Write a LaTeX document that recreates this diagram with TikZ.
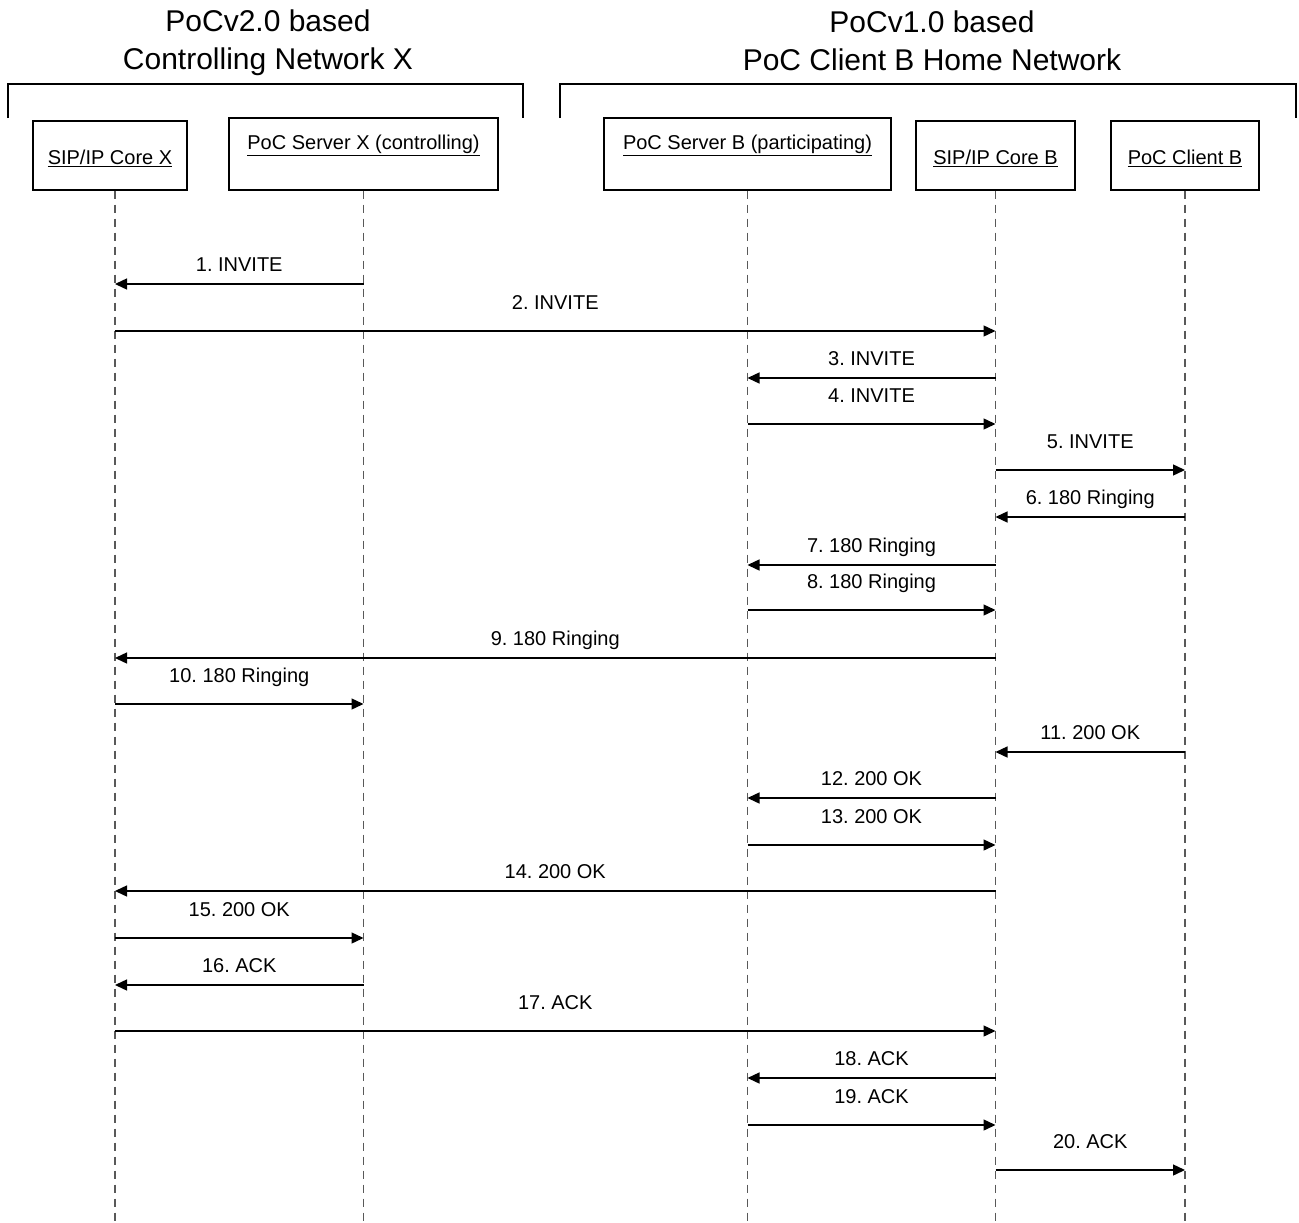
\documentclass[tikz,border=0pt]{standalone}
\usepackage{fontspec}
\setmainfont{Liberation Sans}
\usetikzlibrary{arrows.meta, positioning}
\frenchspacing

\begin{document}
\begin{tikzpicture}[
    x=1pt, y=-1pt,
    font=\fontsize{20}{24}\selectfont,
    >={Triangle[length=12pt, width=11pt]},
    entity/.style={draw=black, line width=1.1pt, inner sep=0pt,
        text height=18pt, text depth=0pt, minimum height=69pt},
    tallentity/.style={entity, text depth=27pt, minimum height=72pt},
    netlabel/.style={align=center, font=\fontsize{30}{38}\selectfont},
    bracket/.style={line width=2pt},
    lifeline/.style={dash pattern=on 8pt off 6pt, line width=1.3pt, draw=black!65},
    msg/.style={->, line width=1.4pt},
    lblleft/.style={above=7.5pt, inner sep=0pt, text height=15pt, text depth=4pt},
    lblright/.style={above=16.5pt, inner sep=0pt, text height=15pt, text depth=4pt}
  ]
    \useasboundingbox (0,0) rectangle (1299,1223);

    % network headers and their brackets
    \node[netlabel] (netx) at (268,43) {PoCv2.0 based\\Controlling Network X};
    \node[netlabel] (netb) at (932,41) {PoCv1.0 based\\PoC Client B Home Network};
    \draw[bracket] (8,118) |- (523,84) -- (523,118);
    \draw[bracket] (560,118) |- (1296,84) -- (1296,118);

    % entities
    \node[entity, minimum width=154pt] (corex) at (110,155.5) {\underline{SIP/IP Core X}};
    \node[tallentity, minimum width=269pt] (serverx) at (363.5,154) {\underline{PoC Server X (controlling)}};
    \node[tallentity, minimum width=287pt] (serverb) at (747.5,154) {\underline{PoC Server B (participating)}};
    \node[entity, minimum width=159pt] (coreb) at (995.5,155.5) {\underline{SIP/IP Core B}};
    \node[entity, minimum width=148pt] (clientb) at (1185,155.5) {\underline{PoC Client B}};

    % lifelines
    \coordinate (lcorex) at ([xshift=5pt]corex.south);
    \coordinate (lserverx) at (serverx.south);
    \coordinate (lserverb) at (serverb.south);
    \coordinate (lcoreb) at (coreb.south);
    \coordinate (lclientb) at (clientb.south);
    \draw[lifeline] (lcorex) -- (lcorex |- 0,1223);
    \draw[lifeline] (lserverx) -- (lserverx |- 0,1223);
    \draw[lifeline] (lserverb) -- (lserverb |- 0,1223);
    \draw[lifeline] (lcoreb) -- (lcoreb |- 0,1223);
    \draw[lifeline] (lclientb) -- (lclientb |- 0,1223);

    % INVITE
    \draw[msg] (lserverx |- 0,284) -- node[lblleft] {1. INVITE} (lcorex |- 0,284);
    \draw[msg] (lcorex |- 0,331) -- node[lblright] {2. INVITE} (lcoreb |- 0,331);
    \draw[msg] (lcoreb |- 0,378) -- node[lblleft] {3. INVITE} (lserverb |- 0,378);
    \draw[msg] (lserverb |- 0,424) -- node[lblright] {4. INVITE} (lcoreb |- 0,424);
    \draw[msg] (lcoreb |- 0,470) -- node[lblright] {5. INVITE} (lclientb |- 0,470);
    % 180 Ringing
    \draw[msg] (lclientb |- 0,517) -- node[lblleft] {6. 180 Ringing} (lcoreb |- 0,517);
    \draw[msg] (lcoreb |- 0,565) -- node[lblleft] {7. 180 Ringing} (lserverb |- 0,565);
    \draw[msg] (lserverb |- 0,610) -- node[lblright] {8. 180 Ringing} (lcoreb |- 0,610);
    \draw[msg] (lcoreb |- 0,658) -- node[lblleft] {9. 180 Ringing} (lcorex |- 0,658);
    \draw[msg] (lcorex |- 0,704) -- node[lblright] {10. 180 Ringing} (lserverx |- 0,704);
    % 200 OK
    \draw[msg] (lclientb |- 0,752) -- node[lblleft] {11. 200 OK} (lcoreb |- 0,752);
    \draw[msg] (lcoreb |- 0,798) -- node[lblleft] {12. 200 OK} (lserverb |- 0,798);
    \draw[msg] (lserverb |- 0,845) -- node[lblright] {13. 200 OK} (lcoreb |- 0,845);
    \draw[msg] (lcoreb |- 0,891) -- node[lblleft] {14. 200 OK} (lcorex |- 0,891);
    \draw[msg] (lcorex |- 0,938) -- node[lblright] {15. 200 OK} (lserverx |- 0,938);
    % ACK
    \draw[msg] (lserverx |- 0,985) -- node[lblleft] {16. ACK} (lcorex |- 0,985);
    \draw[msg] (lcorex |- 0,1031) -- node[lblright] {17. ACK} (lcoreb |- 0,1031);
    \draw[msg] (lcoreb |- 0,1078) -- node[lblleft] {18. ACK} (lserverb |- 0,1078);
    \draw[msg] (lserverb |- 0,1125) -- node[lblright] {19. ACK} (lcoreb |- 0,1125);
    \draw[msg] (lcoreb |- 0,1170) -- node[lblright] {20. ACK} (lclientb |- 0,1170);
\end{tikzpicture}
\end{document}
